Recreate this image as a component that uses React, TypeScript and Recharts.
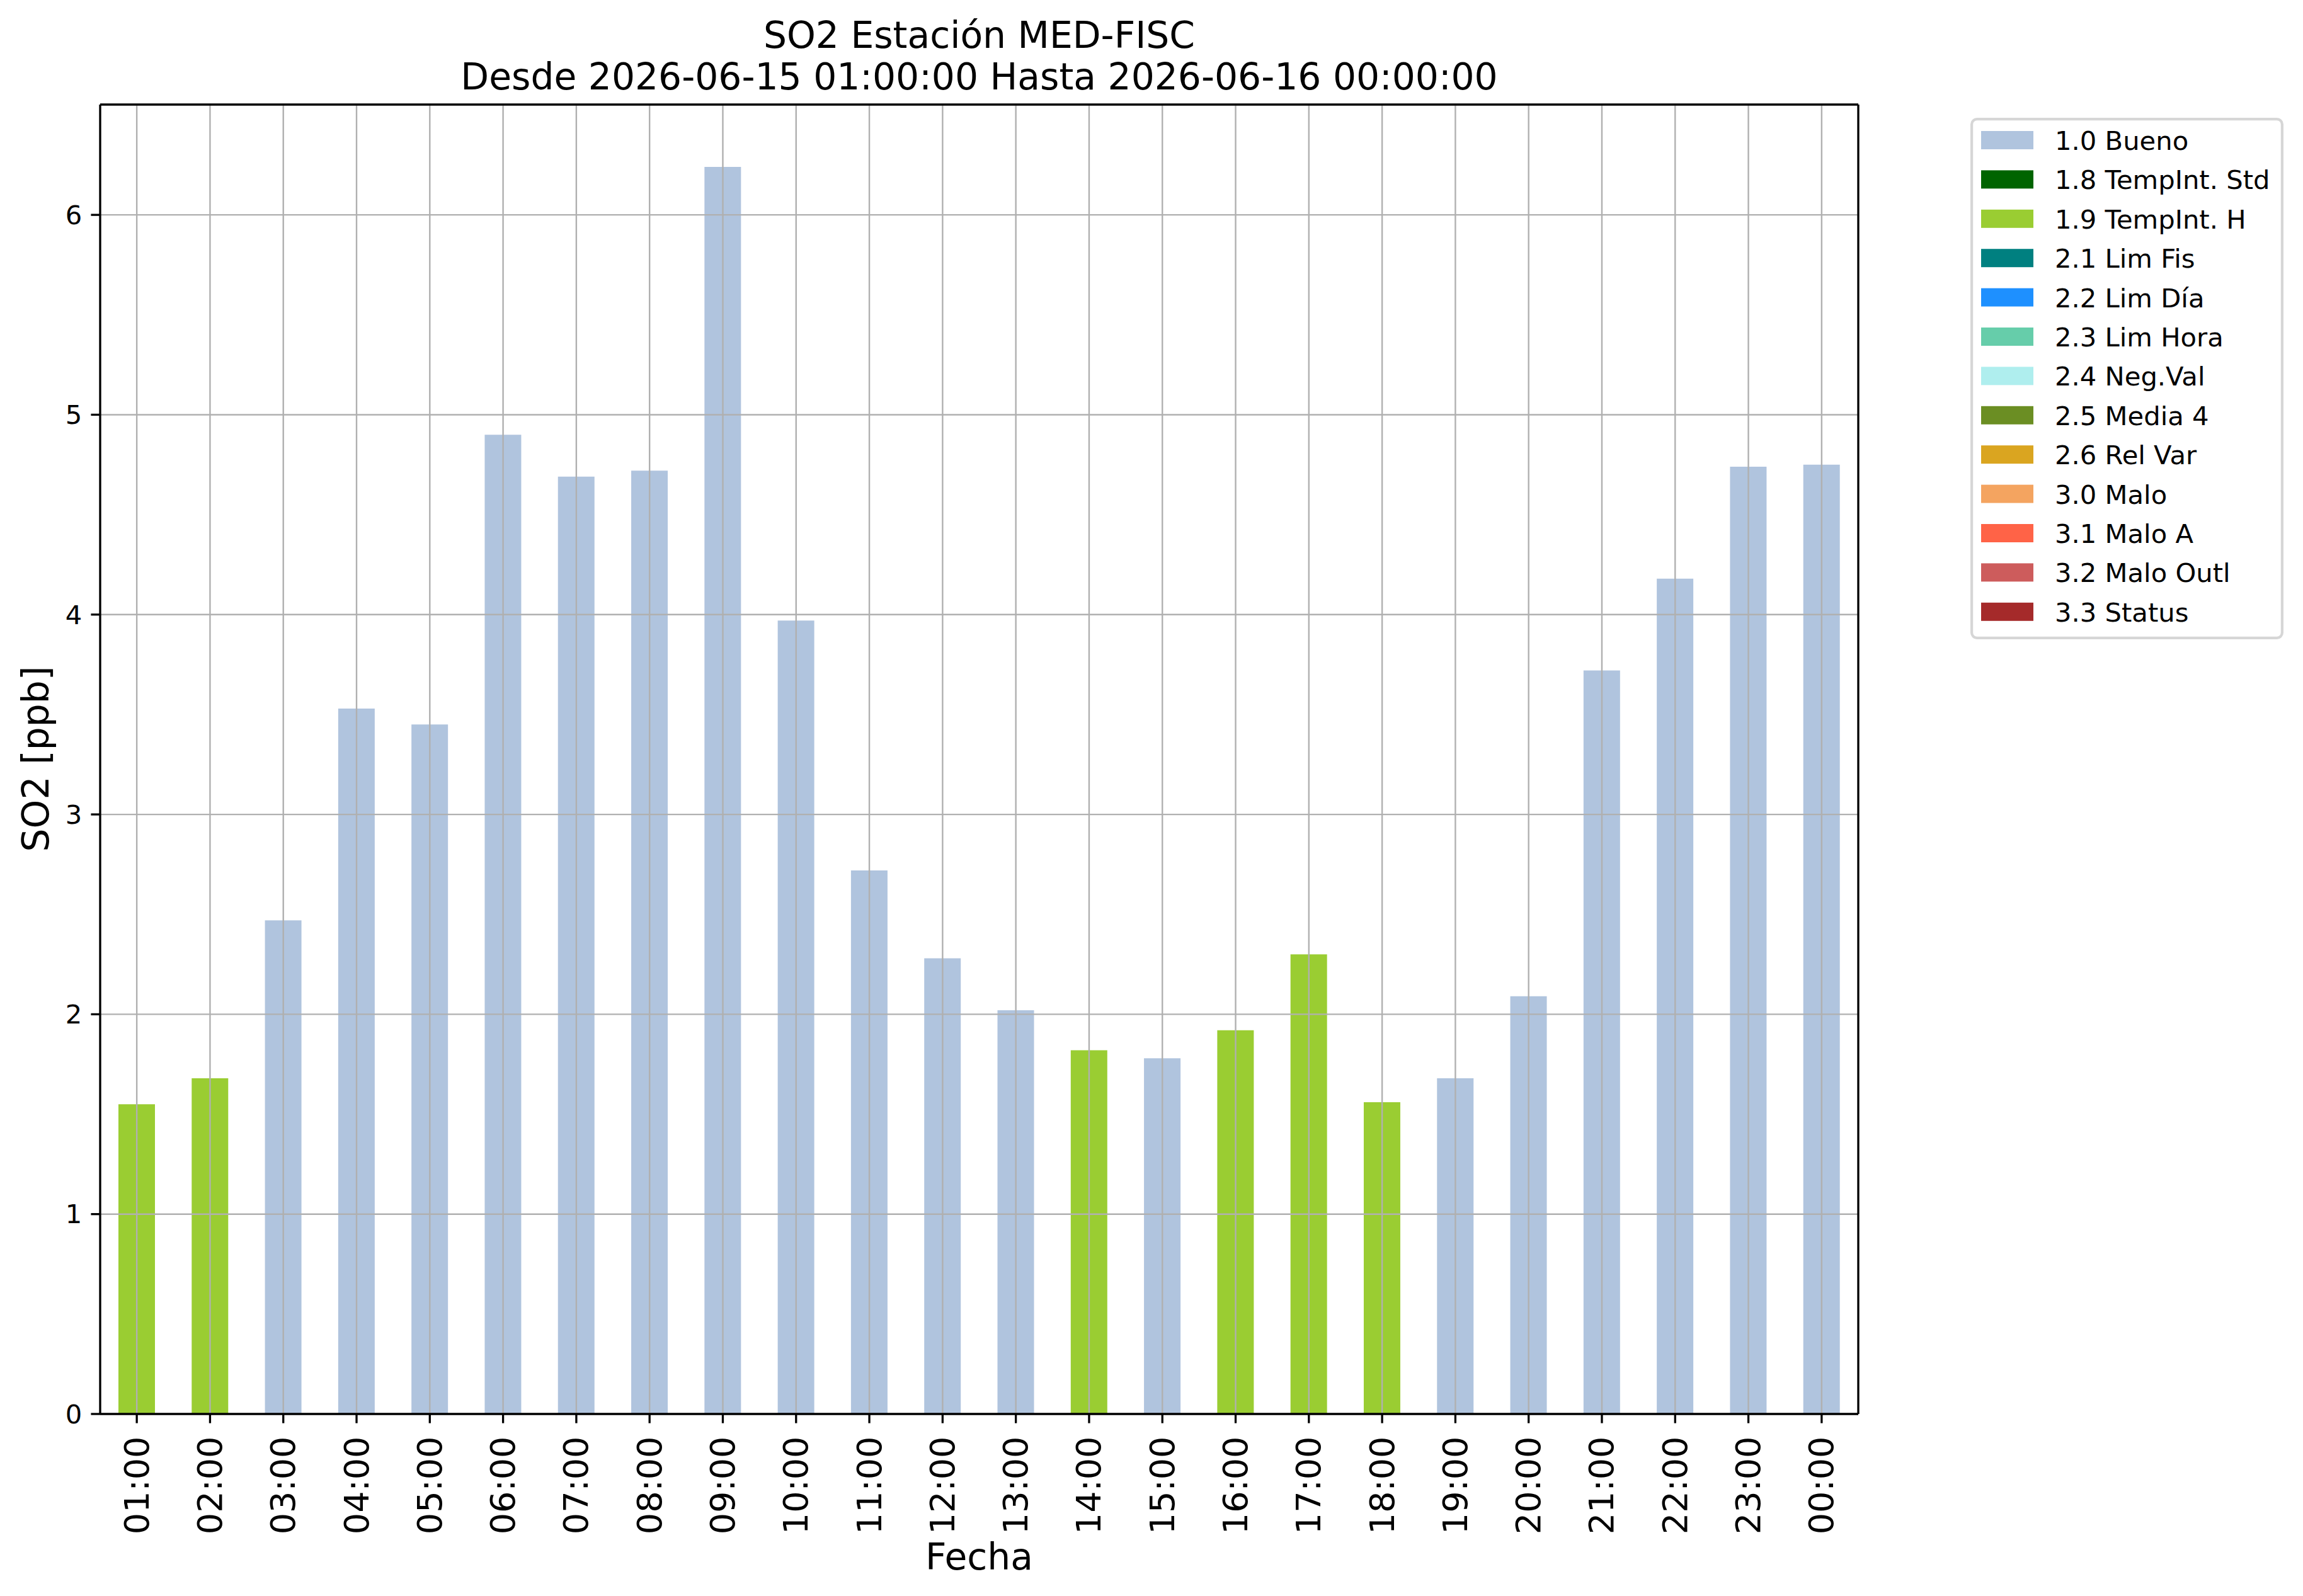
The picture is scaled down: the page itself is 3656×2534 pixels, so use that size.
import React from 'react';
import { BarChart, Bar, XAxis, YAxis, CartesianGrid, Cell, Legend } from 'recharts';

const hours = ['01:00', '02:00', '03:00', '04:00', '05:00', '06:00', '07:00', '08:00', '09:00', '10:00', '11:00', '12:00',
  '13:00', '14:00', '15:00', '16:00', '17:00', '18:00', '19:00', '20:00', '21:00', '22:00', '23:00', '00:00'];
const so2Values = [1.55, 1.68, 2.47, 3.53, 3.45, 4.90, 4.69, 4.72, 6.24, 3.97, 2.72, 2.28,
  2.02, 1.82, 1.78, 1.92, 2.30, 1.56, 1.68, 2.09, 3.72, 4.18, 4.74, 4.75];
const hourFlagIndex = [2, 2, 0, 0, 0, 0, 0, 0, 0, 0, 0, 0, 0, 2, 0, 2, 2, 2, 0, 0, 0, 0, 0, 0];

const flagNames = ['1.0 Bueno', '1.8 TempInt. Std', '1.9 TempInt. H', '2.1 Lim Fis', '2.2 Lim Día', '2.3 Lim Hora',
  '2.4 Neg.Val', '2.5 Media 4', '2.6 Rel Var', '3.0 Malo', '3.1 Malo A', '3.2 Malo Outl', '3.3 Status'];
const flagColors = ['#b0c4de', '#006400', '#9acd32', '#008080', '#1e90ff', '#66cdaa', '#afeeee', '#6b8e23',
  '#daa520', '#f4a460', '#ff6347', '#cd5c5c', '#a52a2a'];

const yTicks = [0, 1, 2, 3, 4, 5, 6];
const yDomain: [number, number] = [0, 6.552];

const titleLines = ['SO2 Estación MED-FISC', 'Desde 2026-06-15 01:00:00 Hasta 2026-06-16 00:00:00'];
const yLabel = 'SO2 [ppb]';
const xLabel = 'Fecha';

const data = hours.map((h, i) => ({ hour: h, value: so2Values[i], flag: hourFlagIndex[i] }));

const W = 3656;
const H = 2534;
const FONT = 'DejaVu Sans';
const SPINE = 3.3;

const XTick = (props: any) => {
  const { x, y, payload } = props;
  return (
    <text x={x} y={y} transform={`rotate(-90 ${x} ${y})`} textAnchor="end" dominantBaseline="central"
      fontSize={54} fontFamily={FONT} fill="#000">{payload.value}</text>
  );
};

const LegendBox = () => {
  const bw = 497;
  const bh = 828;
  return (
    <svg width={bw} height={bh} style={{ display: 'block' }}>
      <rect x={2.1} y={2.1} width={bw - 4.2} height={bh - 4.2} rx={8.3} ry={8.3} fill="#fff" stroke="#d6d6d6" strokeWidth={4.2} />
      {flagNames.map((n, i) => {
        const base = 51 + 62.4 * i;
        return (
          <g key={n}>
            <rect x={17} y={base - 30} width={83} height={29} fill={flagColors[i]} />
            <text x={134} y={base} fontSize={41.7} fontFamily={FONT} fill="#000">{n}</text>
          </g>
        );
      })}
    </svg>
  );
};

export default function App() {
  return (
    <div style={{ position: 'absolute', left: 0, top: 0, width: W, height: H, background: '#fff' }}>
      <BarChart width={W} height={H} data={data} margin={{ top: 165, right: 705, bottom: 0, left: 0 }}>
        <XAxis dataKey="hour" interval={0} height={289} tickSize={14.6} tickMargin={21}
          tick={<XTick />} tickLine={{ stroke: '#000', strokeWidth: SPINE }}
          axisLine={{ stroke: '#000', strokeWidth: SPINE }} />
        <XAxis xAxisId="top" dataKey="hour" orientation="top" height={1} tick={false} tickLine={false}
          axisLine={{ stroke: '#000', strokeWidth: SPINE }} />
        <YAxis domain={yDomain} ticks={yTicks} width={159} tickSize={14.6} tickMargin={14}
          allowDataOverflow
          tick={{ fontSize: 41.7, fill: '#000', fontFamily: FONT }}
          tickLine={{ stroke: '#000', strokeWidth: SPINE }} axisLine={{ stroke: '#000', strokeWidth: SPINE }} />
        <YAxis yAxisId="r" orientation="right" domain={[0, 1]} width={1} tick={false} tickLine={false}
          axisLine={{ stroke: '#000', strokeWidth: SPINE }} />
        <Bar dataKey="value" barSize={58} isAnimationActive={false}>
          {data.map((d, i) => (
            <Cell key={i} fill={flagColors[d.flag]} />
          ))}
        </Bar>
        <CartesianGrid stroke="#b0b0b0" strokeWidth={2.4} zIndex={350} />
        <Legend layout="vertical" align="center" verticalAlign="middle" content={<LegendBox />}
          wrapperStyle={{ position: 'absolute', left: 3128, top: 187, width: 497, height: 828, margin: 0, padding: 0 }} />
      </BarChart>
      <svg width={W} height={H} style={{ position: 'absolute', left: 0, top: 0, pointerEvents: 'none' }}>
        <text x={1554.5} y={76} textAnchor="middle" fontSize={58.3} fontFamily={FONT} fill="#000">{titleLines[0]}</text>
        <text x={1554.5} y={142} textAnchor="middle" fontSize={58.3} fontFamily={FONT} fill="#000">{titleLines[1]}</text>
        <text x={77} y={1205} transform="rotate(-90 77 1205)" textAnchor="middle" fontSize={58.3} fontFamily={FONT} fill="#000">{yLabel}</text>
        <text x={1554.5} y={2492} textAnchor="middle" fontSize={58.3} fontFamily={FONT} fill="#000">{xLabel}</text>
      </svg>
    </div>
  );
}
